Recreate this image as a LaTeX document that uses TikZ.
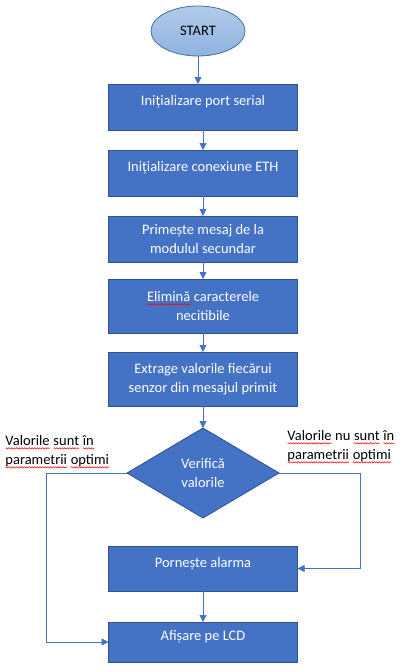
\documentclass[tikz,border=0pt]{standalone}
\usepackage{fontspec}
\setmainfont{Carlito}
\usepackage{xcolor}
\usepackage{tikz}
\usetikzlibrary{shapes,arrows.meta,positioning,decorations.pathmorphing}

\definecolor{boxblue}{HTML}{4472C4}
\definecolor{edgeblue}{HTML}{2F528F}
\definecolor{startline}{HTML}{41719C}
\definecolor{starttop}{HTML}{B4CBEA}
\definecolor{startbottom}{HTML}{8EB2E0}

% red wavy spell-check mark under a word
\newcommand{\spell}[1]{\tikz[baseline=(word.base)]{\node[shape=rectangle, draw=none, fill=none, inner sep=0pt, outer sep=0pt, minimum width=0pt, minimum height=0pt, text height=, text depth=] (word) {#1};
    \draw[red, line width=0.5pt, decorate, decoration={snake, amplitude=0.7pt, segment length=2.6pt}] ([yshift=-2.6pt]word.base west) -- ([yshift=-2.6pt]word.base east);}}

\begin{document}
\begin{tikzpicture}[
    x=1pt, y=1pt,
    font=\fontsize{14.5}{18.5}\selectfont,
    startnode/.style={ellipse, draw=startline, line width=0.8pt, top color=starttop, bottom color=startbottom, minimum width=94pt, minimum height=50pt, inner sep=0pt, outer sep=0pt},
    stepbox/.style={rectangle, draw=edgeblue, line width=0.8pt, fill=boxblue, text=white, minimum width=189pt, align=center, outer sep=0pt},
    oneline/.style={stepbox, text height=10pt, text depth=13pt},
    decision/.style={diamond, draw=edgeblue, line width=0.8pt, fill=boxblue, text=white, minimum width=152pt, minimum height=90pt, aspect=1.69, inner sep=0pt, outer sep=0pt, align=center},
    note/.style={inner sep=0pt, align=left, font=\fontsize{14.5}{19}\selectfont},
    arrow/.style={-{Triangle[length=7pt,width=7pt]}, draw=boxblue, line width=0.8pt}
]

\useasboundingbox (0,0) rectangle (403,-672);

% Start
\node[startnode] (start) at (198,-31) {START};

% Initialisation
\node[oneline, minimum height=46pt, below=28pt of start, xshift=5pt] (serial) {Inițializare port serial};
\node[oneline, minimum height=46pt, below=20pt of serial] (eth) {Inițializare conexiune ETH};

% Message processing
\node[stepbox, minimum height=46pt, below=20pt of eth] (receive) {Primește mesaj de la\\modulul secundar};
\node[stepbox, minimum height=54pt, below=17pt of receive] (clean) {\spell{Elimină} caracterele\\necitibile};
\node[stepbox, minimum height=54pt, below=19pt of clean] (extract) {Extrage valorile fiecărui\\senzor din mesajul primit};

% Decision
\node[decision, below=22pt of extract] (check) {Verifică\\valorile};

% Outputs
\node[oneline, minimum height=45pt, below=28pt of check] (alarm) {Pornește alarma};
\node[oneline, minimum height=40pt, below=31pt of alarm] (lcd) {Afișare pe LCD};

% Branch labels
\node[note, anchor=west] (inrange) at (5,-452) {\spell{Valorile} \spell{sunt} \spell{în}\\\spell{parametrii} \spell{optimi}};
\node[note, anchor=west] (outrange) at (287,-447) {\spell{Valorile} nu \spell{sunt} \spell{în}\\\spell{parametrii} \spell{optimi}};

% Arrows
\draw[arrow] (start.south) -- (start.south |- serial.north);
\draw[arrow] (serial) -- (eth);
\draw[arrow] (eth) -- (receive);
\draw[arrow] (receive) -- (clean);
\draw[arrow] (clean) -- (extract);
\draw[arrow] (extract) -- (check);
\draw[arrow] (alarm) -- (lcd);
\draw[arrow] (check.west) -- ++(-81,0) |- (lcd.west);
\draw[arrow] (check.east) -- ++(81,0) |- (alarm.east);

\end{tikzpicture}
\end{document}
